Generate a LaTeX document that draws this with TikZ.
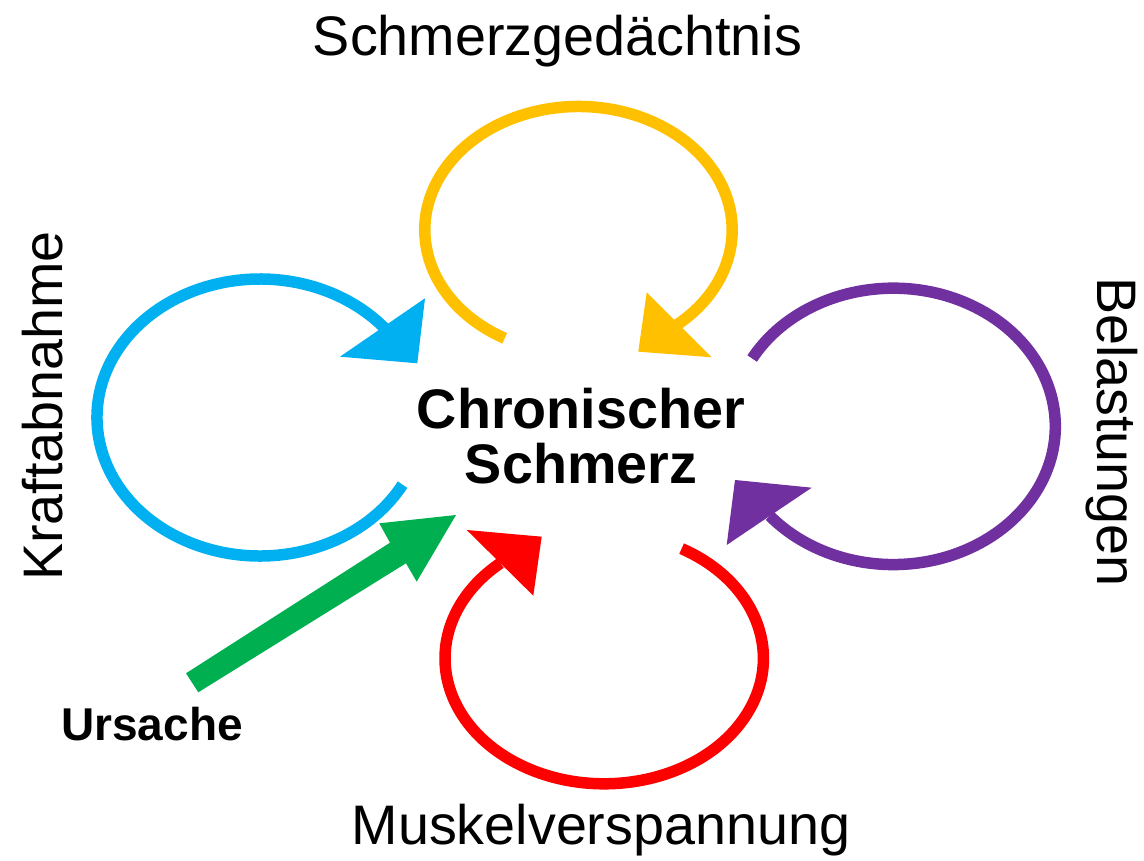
\documentclass[tikz,border=0pt]{standalone}
\usepackage{fontspec}
\setmainfont{Liberation Sans}
\definecolor{cblue}{HTML}{00B0F0}
\definecolor{cyellow}{HTML}{FFC000}
\definecolor{cpurple}{HTML}{7030A0}
\definecolor{cred}{HTML}{FF0000}
\definecolor{cgreen}{HTML}{00B050}
\tikzset{
  loopline/.style={line width=11.5pt, line cap=butt},
  bigtxt/.style={inner sep=0pt, font=\fontsize{55.7}{60}\selectfont},
  boldtxt/.style={inner sep=0pt, font=\bfseries\fontsize{55.7}{55}\selectfont},
}
\begin{document}
\begin{tikzpicture}[x=1pt,y=1pt]
\path[use as bounding box] (0,0) rectangle (1144,861);

% labels
\node[bigtxt, anchor=base] (mem) at (557.5,805) {Schmerzgedächtnis};
\node[bigtxt, anchor=base] (musk) at (601,16) {Muskelverspannung};
\node[bigtxt, anchor=base, rotate=90] (kraft) at (62,455) {Kraftabnahme};
\node[bigtxt, anchor=base, rotate=-90] (bel) at (1097,429) {Belastungen};
\node[boldtxt, anchor=base, align=center] (center) at (581,377) {Chronischer\\Schmerz};
\node[inner sep=0pt, font=\bfseries\fontsize{46}{50}\selectfont, anchor=base] (urs) at (152,120) {Ursache};

% blue loop
\draw[loopline, cblue] ([shift={(260,443.5)}]-29:163 and 138.5) arc[start angle=-29, end angle=-320, x radius=163, y radius=138.5];
\fill[cblue] (425,562.7) -- (340,504.3) -- (417.3,497.7) -- cycle;

% yellow loop
\draw[loopline, cyellow] ([shift={(578.5,631)}]241.3:153.7 and 123.5) arc[start angle=241.3, end angle=-50, x radius=153.7, y radius=123.5];
\fill[cyellow] (646.7,568.7) -- (711.7,503.7) -- (638.3,509.3) -- cycle;

% purple loop
\draw[loopline, cpurple] ([shift={(893.3,434.6)}]150.6:162 and 138.2) arc[start angle=150.6, end angle=-139.7, x radius=162, y radius=138.2];
\fill[cpurple] (726.7,316) -- (811.7,373.3) -- (735,381) -- cycle;

% red loop
\draw[loopline, cred] ([shift={(604.2,202.7)}]60.9:159.2 and 125.5) arc[start angle=60.9, end angle=-229.3, x radius=159.2, y radius=125.5];
\fill[cred] (466.7,331) -- (533.3,265.3) -- (541.7,324.3) -- cycle;

% green cause arrow
\fill[cgreen] (186,187.7) -- (390,318.3) -- (379.3,337.7) -- (456,346) -- (416.7,279.3) -- (406,297.7) -- (198.3,168.7) -- cycle;
\end{tikzpicture}
\end{document}
